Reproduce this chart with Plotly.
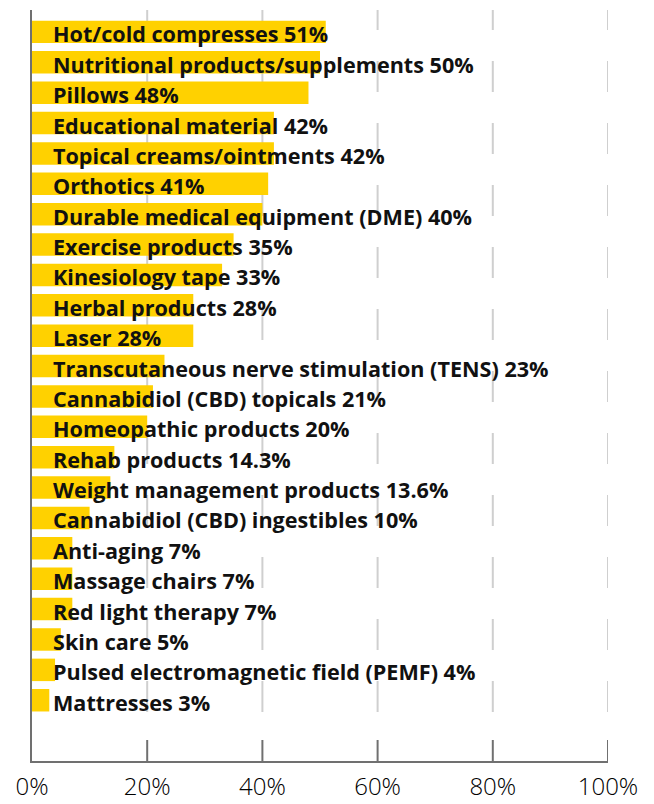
"""Horizontal bar chart: products offered, share of respondents."""

import plotly.graph_objects as go

categories = [
    "Hot/cold compresses",
    "Nutritional products/supplements",
    "Pillows",
    "Educational material",
    "Topical creams/ointments",
    "Orthotics",
    "Durable medical equipment (DME)",
    "Exercise products",
    "Kinesiology tape",
    "Herbal products",
    "Laser",
    "Transcutaneous nerve stimulation (TENS)",
    "Cannabidiol (CBD) topicals",
    "Homeopathic products",
    "Rehab products",
    "Weight management products",
    "Cannabidiol (CBD) ingestibles",
    "Anti-aging",
    "Massage chairs",
    "Red light therapy",
    "Skin care",
    "Pulsed electromagnetic field (PEMF)",
    "Mattresses",
]
values = [51, 50, 48, 42, 42, 41, 40, 35, 33, 28, 28, 23, 21, 20, 14.3, 13.6, 10, 7, 7, 7, 5, 4, 3]
tick_vals = [0, 20, 40, 60, 80, 100]
tick_text = ["0%", "20%", "40%", "60%", "80%", "100%"]

BAR_COLOR = "#FFD100"
AXIS_COLOR = "#707070"
GRID_COLOR = "#CFCFCF"
TEXT_COLOR = "#111111"
LABEL_FONT = "Open Sans"
TICK_FONT = "Open Sans"
PLOT_H = 751  # px height of the plotting area

rows = list(range(len(categories)))

fig = go.Figure()
fig.add_trace(
    go.Bar(
        x=values,
        y=rows,
        orientation="h",
        marker=dict(color=BAR_COLOR, line=dict(width=0)),
        width=0.74,
        hoverinfo="skip",
    )
)

# labels sit inside the plot, starting just right of the zero line
for i, (cat, val) in enumerate(zip(categories, values)):
    fig.add_annotation(
        x=0,
        y=i,
        xref="x",
        yref="y",
        text=f"{cat} {val:g}%",
        showarrow=False,
        xanchor="left",
        yanchor="middle",
        xshift=19,
        yshift=-2,
        font=dict(family=LABEL_FONT, size=21.6, color=TEXT_COLOR, weight=700),
    )

for v in tick_vals[1:]:
    # dashed vertical gridline, phase anchored near the bottom
    fig.add_shape(
        type="line",
        xref="x",
        yref="paper",
        x0=v,
        x1=v,
        y0=49 / PLOT_H,
        y1=1,
        line=dict(color=GRID_COLOR, width=2, dash="31px,31px"),
        layer="below",
    )
    # short solid tick rising from the bottom axis
    fig.add_shape(
        type="line",
        xref="x",
        yref="paper",
        x0=v,
        x1=v,
        y0=0,
        y1=21 / PLOT_H,
        line=dict(color=AXIS_COLOR, width=2),
        layer="above",
    )

# page body adds an 8px offset, so the figure is shifted inside the window
fig.update_layout(
    width=638,
    height=796,
    margin=dict(l=24, r=38, t=2, b=43, autoexpand=False),
    paper_bgcolor="white",
    plot_bgcolor="white",
    showlegend=False,
)
fig.update_xaxes(
    range=[0, 100],
    tickvals=tick_vals,
    ticktext=tick_text,
    ticks="",
    showgrid=False,
    zeroline=False,
    showline=True,
    linecolor=AXIS_COLOR,
    linewidth=2,
    tickfont=dict(family=TICK_FONT, size=24, color="#000000", weight=300),
    ticklabelstandoff=3,
    automargin=False,
)
fig.update_yaxes(
    range=[24, -0.72],
    showticklabels=False,
    showgrid=False,
    zeroline=False,
    showline=True,
    linecolor=AXIS_COLOR,
    linewidth=2,
    ticks="",
    layer="below traces",
    automargin=False,
)

fig.write_html("out.html")
